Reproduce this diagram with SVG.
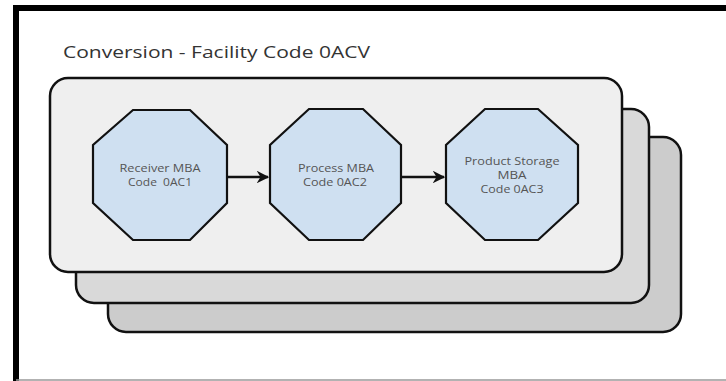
<svg xmlns="http://www.w3.org/2000/svg" width="726" height="381" viewBox="0 0 726 381">
<defs>
<style>
.panel{stroke:#111;stroke-width:2.5}
.oct{fill:#cfe0f1;stroke:#111;stroke-width:2.2}
.lbl{font-family:"Open Sans","Liberation Sans",sans-serif;font-size:11.5px;fill:#555;text-anchor:middle}
.title{font-family:"Open Sans","Liberation Sans",sans-serif;font-size:17px;fill:#333}
.conn{stroke:#111;stroke-width:2.5;fill:none}
</style>
<marker id="arr" viewBox="0 0 10 10" refX="9" refY="5" markerWidth="5" markerHeight="5" orient="auto" markerUnits="strokeWidth">
<path d="M0,0 L10,5 L0,10 L3,5 Z" fill="#111"/>
</marker>
</defs>
<rect width="726" height="381" fill="#fff"/>
<g id="frame">
<line x1="16" y1="8" x2="726" y2="8" stroke="#000" stroke-width="6"/>
<line x1="16" y1="5" x2="16" y2="381" stroke="#000" stroke-width="6"/>
<line x1="16" y1="380" x2="726" y2="380" stroke="#999" stroke-width="1.5"/>
</g>
<text class="title" x="63" y="58" textLength="307" lengthAdjust="spacingAndGlyphs">Conversion - Facility Code 0ACV</text>
<g id="panel3"><rect class="panel" x="108" y="137" width="573" height="195" rx="18" fill="#cccccc"/></g>
<g id="panel2"><rect class="panel" x="76" y="109" width="573" height="194" rx="18" fill="#d9d9d9"/></g>
<g id="panel1"><rect class="panel" x="50" y="78" width="572" height="194" rx="18" fill="#efefef"/></g>
<g id="connectors">
<line class="conn" x1="227" y1="177" x2="268" y2="177" marker-end="url(#arr)"/>
<line class="conn" x1="401" y1="177" x2="444" y2="177" marker-end="url(#arr)"/>
</g>
<g id="receiver">
<polygon class="oct" points="133,110 190,110 227,145 227,203 190,240 133,240 93,203 93,145"/>
<text class="lbl" x="160" y="172" textLength="81" lengthAdjust="spacingAndGlyphs">Receiver MBA</text>
<text class="lbl" x="160" y="186" xml:space="preserve" textLength="64" lengthAdjust="spacingAndGlyphs">Code  0AC1</text>
</g>
<g id="process">
<polygon class="oct" points="309,109 363,109 401,145 401,203 363,240 309,240 270,203 270,145"/>
<text class="lbl" x="336" y="172" textLength="76" lengthAdjust="spacingAndGlyphs">Process MBA</text>
<text class="lbl" x="335" y="186" textLength="64" lengthAdjust="spacingAndGlyphs">Code 0AC2</text>
</g>
<g id="storage">
<polygon class="oct" points="485,109 538,109 578,145 578,203 538,240 485,240 446,203 446,145"/>
<text class="lbl" x="512" y="165" textLength="95" lengthAdjust="spacingAndGlyphs">Product Storage</text>
<text class="lbl" x="512" y="179" textLength="29" lengthAdjust="spacingAndGlyphs">MBA</text>
<text class="lbl" x="512" y="193" textLength="63" lengthAdjust="spacingAndGlyphs">Code 0AC3</text>
</g>
</svg>
